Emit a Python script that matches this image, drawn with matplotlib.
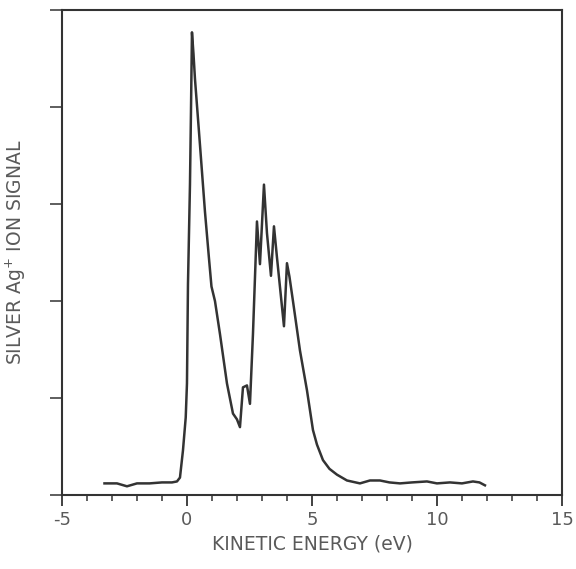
import matplotlib.pyplot as plt
from matplotlib.ticker import MultipleLocator, NullFormatter

plt.rcParams["axes.unicode_minus"] = False

# kinetic energy (eV) and ion signal (arb. units)
energy = [-3.3, -2.8, -2.4, -2.0, -1.5, -1.0, -0.6, -0.4, -0.28, -0.16, -0.05, 0.0,
          0.04, 0.12, 0.16, 0.2, 0.26, 0.32, 0.52, 0.72, 0.88, 0.98, 1.12, 1.32,
          1.6, 1.84, 2.0, 2.12, 2.24, 2.4, 2.52, 2.64, 2.8, 2.92, 3.08, 3.2,
          3.36, 3.48, 3.6, 3.88, 4.0, 4.1, 4.24, 4.52, 4.8, 5.04, 5.2, 5.44,
          5.7, 6.0, 6.4, 6.92, 7.32, 7.72, 8.1, 8.52, 9.0, 9.6, 10.0, 10.52,
          11.0, 11.44, 11.7, 11.92]
signal = [0.12, 0.12, 0.09, 0.12, 0.12, 0.13, 0.13, 0.14, 0.18, 0.46, 0.8, 1.15,
          2.17, 3.2, 3.95, 4.77, 4.55, 4.29, 3.61, 2.92, 2.44, 2.15, 2.0, 1.66,
          1.15, 0.84, 0.78, 0.70, 1.11, 1.13, 0.94, 1.66, 2.82, 2.38, 3.2, 2.7,
          2.26, 2.77, 2.45, 1.74, 2.39, 2.25, 2.0, 1.49, 1.08, 0.67, 0.52, 0.36,
          0.27, 0.21, 0.15, 0.12, 0.15, 0.15, 0.13, 0.12, 0.13, 0.14, 0.12, 0.13,
          0.12, 0.14, 0.13, 0.10]

fig = plt.figure(figsize=(5.76, 5.69), dpi=100)
ax = fig.add_axes([0.1076, 0.13, 0.868, 0.8524])

ax.plot(energy, signal, color="#333333", linewidth=1.8)

ax.set_xlim(-5, 15)
ax.set_ylim(0, 5)
ax.set_xticks([-5, 0, 5, 10, 15])
ax.xaxis.set_minor_locator(MultipleLocator(1))
ax.set_yticks([0, 1, 2, 3, 4, 5])
ax.yaxis.set_major_formatter(NullFormatter())

ax.tick_params(axis="x", which="major", direction="out", length=8, width=1.3,
               labelsize=13, labelcolor="#5a5a5a", color="#333333")
ax.tick_params(axis="x", which="minor", direction="out", length=4, width=1.1,
               color="#333333")
ax.tick_params(axis="y", direction="out", length=9, width=1.1, color="#333333")
for s in ax.spines.values():
    s.set_linewidth(1.5)
    s.set_color("#333333")

ax.set_xlabel("KINETIC ENERGY (eV)", fontsize=13.5, color="#5a5a5a", labelpad=4)
ax.set_ylabel("SILVER Ag$^{+}$ ION SIGNAL", fontsize=13.5, color="#5a5a5a", labelpad=12)

fig.savefig("out.png", dpi=100)
